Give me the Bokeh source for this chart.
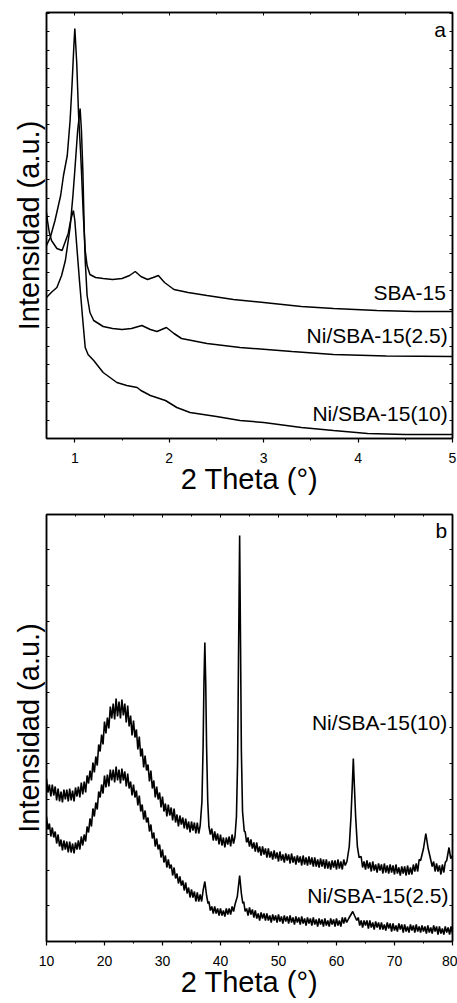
from bokeh.plotting import figure
from bokeh.layouts import column
from bokeh.models import (LinearAxis, Label, FixedTicker, SingleIntervalTicker, Range1d,
                          CustomLabelingPolicy)
from bokeh.embed import file_html
from bokeh.resources import INLINE

FONT = "Liberation Sans"

# ---------------- Panel a : low-angle XRD ----------------
SBA15_X = [0.70, 0.74, 0.79, 0.85, 0.88, 0.92, 0.95, 0.97, 0.99, 1.00, 1.02, 1.04, 1.06, 1.07,
           1.09, 1.11, 1.13, 1.16, 1.22, 1.30, 1.40, 1.50, 1.58, 1.64, 1.70, 1.77, 1.83, 1.885,
           1.95, 2.05, 2.2, 2.4, 2.68, 3.0, 3.4, 3.74, 4.2, 4.6, 5.0]
SBA15_Y = [193, 201, 218, 243, 263, 283, 318, 353, 393, 410, 376, 323, 288, 268,
           223, 188, 173, 164, 161, 160, 159, 160, 163, 167, 162, 159, 161, 163,
           156, 149, 146, 143, 139, 136, 132, 130, 128, 127, 127]

NI25A_X = [0.70, 0.75, 0.81, 0.86, 0.90, 0.95, 0.98, 1.00, 1.03, 1.056, 1.07, 1.085, 1.10, 1.11,
           1.13, 1.16, 1.2, 1.3, 1.4, 1.5, 1.6, 1.71, 1.8, 1.87, 1.97, 2.05, 2.13, 2.4, 2.75,
           3.3, 3.74, 4.3, 5.0]
NI25A_Y = [141, 146, 151, 163, 178, 211, 243, 268, 308, 330, 308, 268, 208, 178,
           143, 126, 118, 112, 110, 109, 110, 113, 109, 107, 111, 105, 100, 95, 91,
           87, 84, 82.5, 82]

NI10A_X = [0.70, 0.71, 0.73, 0.753, 0.81, 0.865, 0.93, 0.96, 0.985, 1.00, 1.02, 1.05, 1.08, 1.11,
           1.14, 1.18, 1.2, 1.3, 1.445, 1.55, 1.66, 1.7, 1.80, 1.96, 2.08, 2.22, 2.5, 2.75,
           3.0, 3.4, 3.74, 4.1, 4.5, 5.0]
NI10A_Y = [226, 218, 206, 198, 190, 188, 205, 220, 228, 218, 193, 157, 123, 91,
           84, 80, 78, 66, 56, 53, 51, 48, 43, 38, 31, 26, 22, 18,
           16, 11, 8, 5, 4, 4]

A_LABELS = ["SBA-15", "Ni/SBA-15(2.5)", "Ni/SBA-15(10)"]
A_YTICKS = [18.5 * k for k in range(0, 24)]

# ---------------- Panel b : wide-angle XRD (noisy traces, read point by point) ----------------
NI10B = [
    (10, 163), (10.25, 149), (10.5, 157), (10.75, 145), (11, 157), (11.25, 146), (11.5, 155), (11.75, 141),
    (12, 153), (12.25, 140), (12.5, 150), (12.75, 139), (13, 152), (13.25, 142), (13.5, 152), (13.75, 140),
    (14, 153), (14.25, 141), (14.5, 151), (14.75, 140), (15, 154), (15.25, 145), (15.5, 155), (15.75, 144),
    (16, 159), (16.25, 147), (16.5, 160), (16.75, 149), (17, 166), (17.25, 158), (17.5, 171), (17.75, 161),
    (18, 179), (18.25, 169), (18.5, 185), (18.75, 176), (19, 197), (19.25, 190), (19.5, 207), (19.75, 197),
    (20, 220), (20.25, 208), (20.5, 224), (20.75, 213), (21, 235), (21.25, 223), (21.5, 238), (21.75, 222),
    (22, 243), (22.25, 225), (22.5, 240), (22.75, 223), (23, 242), (23.25, 226), (23.5, 238), (23.75, 219),
    (24, 236), (24.25, 215), (24.5, 226), (24.75, 206), (25, 221), (25.25, 204), (25.5, 212), (25.75, 192),
    (26, 205), (26.25, 185), (26.5, 193), (26.75, 174), (27, 186), (27.25, 171), (27.5, 177), (27.75, 160),
    (28, 171), (28.25, 153), (28.5, 161), (28.75, 144), (29, 155), (29.25, 142), (29.5, 149), (29.75, 134),
    (30, 145), (30.25, 130), (30.5, 138), (30.75, 125), (31, 137), (31.25, 126), (31.5, 134), (31.75, 121),
    (32, 133), (32.25, 119), (32.5, 127), (32.75, 115), (33, 126), (33.25, 117), (33.5, 124), (33.75, 113),
    (34, 123), (34.25, 112), (34.5, 120), (34.75, 109), (35, 120), (35.25, 111), (35.5, 119), (35.75, 108),
    (36, 119), (36.25, 108), (36.5, 116),
    (36.8, 140), (37.0, 195), (37.15, 260), (37.3, 299), (37.45, 260), (37.6, 195), (37.8, 140), (38.0, 115),
    (38.25, 107), (38.5, 113), (38.75, 101), (39, 110), (39.25, 101), (39.5, 108), (39.75, 97), (40, 107),
    (40.25, 96), (40.5, 104), (40.75, 94), (41, 104), (41.25, 97), (41.5, 105), (41.75, 95), (42, 107),
    (42.25, 98), (42.5, 105), (42.75, 125), (42.95, 180), (43.1, 280), (43.3, 406), (43.45, 300),
    (43.6, 190), (43.8, 130), (44.1, 110),
    (44.25, 110), (44.5, 99), (44.75, 104), (45, 95), (45.25, 102), (45.5, 93), (45.75, 99), (46, 90),
    (46.25, 99), (46.5, 89), (46.75, 95), (47, 86), (47.25, 95), (47.5, 87), (47.75, 93), (48, 84),
    (48.25, 93), (48.5, 84), (48.75, 90), (49, 82), (49.25, 91), (49.5, 83), (49.75, 89), (50, 80),
    (50.25, 90), (50.5, 81), (50.75, 87), (51, 79), (51.25, 88), (51.5, 81), (51.75, 87), (52, 78),
    (52.25, 88), (52.5, 79), (52.75, 85), (53, 77), (53.25, 86), (53.5, 79), (53.75, 85), (54, 76),
    (54.25, 86), (54.5, 77), (54.75, 84), (55, 76), (55.25, 85), (55.5, 77), (55.75, 84), (56, 75),
    (56.25, 84), (56.5, 75), (56.75, 82), (57, 74), (57.25, 83), (57.5, 75), (57.75, 82), (58, 73),
    (58.25, 82), (58.5, 73), (58.75, 80), (59, 72), (59.25, 81), (59.5, 74), (59.75, 81), (60, 72),
    (60.25, 82), (60.5, 73), (60.75, 80), (61, 72), (61.25, 82), (61.5, 76),
    (61.8, 80), (62.2, 95), (62.5, 125), (62.75, 160), (62.9, 183), (63.05, 160), (63.3, 125),
    (63.6, 95), (63.9, 84),
    (64.25, 85), (64.5, 74), (64.75, 80), (65, 72), (65.25, 81), (65.5, 73), (65.75, 79), (66, 70),
    (66.25, 80), (66.5, 71), (66.75, 77), (67, 69), (67.25, 78), (67.5, 71), (67.75, 77), (68, 68),
    (68.25, 78), (68.5, 69), (68.75, 76), (69, 68), (69.25, 77), (69.5, 69), (69.75, 76), (70, 67),
    (70.25, 77), (70.5, 68), (70.75, 74), (71, 66), (71.25, 75), (71.5, 68), (71.75, 75), (72, 66),
    (72.25, 76), (72.5, 67), (72.75, 74), (73, 67), (73.25, 77), (73.5, 70), (73.75, 78), (74, 70),
    (74.25, 82), (74.5, 81), (75.0, 93), (75.4, 108), (75.8, 93), (76.2, 83),
    (76.5, 75), (76.75, 80), (77, 70), (77.25, 78), (77.5, 70), (77.75, 76), (78, 67), (78.25, 77),
    (78.5, 69), (78.75, 79), (79.0, 81), (79.4, 94), (79.7, 83), (80.0, 86),
]

NI25B = [
    (10, 125), (10.25, 112), (10.5, 118), (10.75, 105), (11, 114), (11.25, 104), (11.5, 110), (11.75, 98),
    (12, 107), (12.25, 95), (12.5, 102), (12.75, 91), (13, 101), (13.25, 92), (13.5, 100), (13.75, 89),
    (14, 100), (14.25, 89), (14.5, 98), (14.75, 88), (15, 99), (15.25, 92), (15.5, 101), (15.75, 92),
    (16, 105), (16.25, 96), (16.5, 107), (16.75, 100), (17, 115), (17.25, 109), (17.5, 123), (17.75, 115),
    (18, 133), (18.25, 125), (18.5, 139), (18.75, 132), (19, 150), (19.25, 144), (19.5, 157), (19.75, 148),
    (20, 166), (20.25, 154), (20.5, 167), (20.75, 155), (21, 172), (21.25, 161), (21.5, 172), (21.75, 159),
    (22, 175), (22.25, 161), (22.5, 172), (22.75, 158), (23, 173), (23.25, 161), (23.5, 170), (23.75, 155),
    (24, 168), (24.25, 153), (24.5, 160), (24.75, 146), (25, 157), (25.25, 144), (25.5, 151), (25.75, 136),
    (26, 146), (26.25, 130), (26.5, 137), (26.75, 122), (27, 131), (27.25, 119), (27.5, 124), (27.75, 110),
    (28, 117), (28.25, 103), (28.5, 109), (28.75, 95), (29, 103), (29.25, 92), (29.5, 97), (29.75, 84),
    (30, 92), (30.25, 79), (30.5, 86), (30.75, 74), (31, 82), (31.25, 73), (31.5, 77), (31.75, 66),
    (32, 74), (32.25, 63), (32.5, 68), (32.75, 58), (33, 65), (33.25, 56), (33.5, 61), (33.75, 51),
    (34, 59), (34.25, 48), (34.5, 54), (34.75, 44), (35, 52), (35.25, 44), (35.5, 50), (35.75, 40),
    (36, 49), (36.25, 40), (36.5, 47), (36.75, 40),
    (37.0, 51), (37.3, 60), (37.6, 46), (37.85, 38),
    (38, 40), (38.25, 31), (38.5, 35), (38.75, 28), (39, 35), (39.25, 28), (39.5, 33), (39.75, 26),
    (40, 33), (40.25, 26), (40.5, 31), (40.75, 25), (41, 33), (41.25, 27), (41.5, 33), (41.75, 27),
    (42, 35), (42.25, 30), (42.5, 37),
    (42.9, 45), (43.3, 66), (43.6, 48), (43.85, 38),
    (44, 40), (44.25, 30), (44.5, 33), (44.75, 26), (45, 34), (45.25, 27), (45.5, 32), (45.75, 24),
    (46, 31), (46.25, 23), (46.5, 28), (46.75, 21), (47, 29), (47.25, 23), (47.5, 28), (47.75, 21),
    (48, 28), (48.25, 21), (48.5, 26), (48.75, 19), (49, 27), (49.25, 21), (49.5, 26), (49.75, 19),
    (50, 27), (50.25, 20), (50.5, 25), (50.75, 18), (51, 26), (51.25, 20), (51.5, 25), (51.75, 18),
    (52, 26), (52.25, 19), (52.5, 24), (52.75, 17), (53, 25), (53.25, 19), (53.5, 24), (53.75, 17),
    (54, 25), (54.25, 18), (54.5, 23), (54.75, 16), (55, 24), (55.25, 18), (55.5, 23), (55.75, 16),
    (56, 24), (56.25, 17), (56.5, 22), (56.75, 15), (57, 23), (57.25, 17), (57.5, 22), (57.75, 15),
    (58, 23), (58.25, 16), (58.5, 21), (58.75, 15), (59, 23), (59.25, 17), (59.5, 22), (59.75, 15),
    (60, 23), (60.25, 16), (60.5, 21), (60.75, 15), (61, 24), (61.25, 18), (61.5, 24), (61.75, 19),
    (62.1, 23), (62.5, 27), (62.8, 30), (63.1, 26), (63.5, 21),
    (63.75, 24), (64, 16), (64.25, 21), (64.5, 14), (64.75, 21), (65, 16), (65.25, 21), (65.5, 13),
    (65.75, 21), (66, 14), (66.25, 19), (66.5, 12), (66.75, 20), (67, 14), (67.25, 19), (67.5, 12),
    (67.75, 19), (68, 12), (68.25, 17), (68.5, 11), (68.75, 19), (69, 13), (69.25, 18), (69.5, 10),
    (69.75, 18), (70, 11), (70.25, 16), (70.5, 10), (70.75, 18), (71, 12), (71.25, 17), (71.5, 9),
    (71.75, 17), (72, 10), (72.25, 15), (72.5, 9), (72.75, 17), (73, 11), (73.25, 16), (73.5, 9),
    (73.75, 17), (74, 10), (74.25, 15), (74.5, 9), (74.75, 16), (75, 10), (75.25, 15), (75.5, 8),
    (75.75, 16), (76, 9), (76.25, 14), (76.5, 8), (76.75, 16), (77, 10), (77.25, 15), (77.5, 7),
    (77.75, 15), (78, 8), (78.25, 13), (78.5, 7), (78.75, 15), (79, 9), (79.25, 14), (79.5, 7),
    (79.75, 15), (80, 8),
]

B_LABELS = ["Ni/SBA-15(10)", "Ni/SBA-15(2.5)"]
B_YTICKS = [35.6 * k for k in range(0, 13)]


def hide_labels(ax):
    ax.major_label_policy = CustomLabelingPolicy(code="return []")
    ax.major_label_text_font_size = "0px"
    ax.major_label_standoff = 0


def make_panel(xr, yr, height, top, bottom, x_interval, yticks):
    p = figure(width=457, height=height, x_range=Range1d(*xr), y_range=Range1d(*yr),
               min_border_left=46, min_border_right=5, min_border_top=top,
               min_border_bottom=bottom, output_backend="svg", toolbar_location=None,
               x_axis_label="2 Theta (°)", y_axis_label="Intensidad (a.u.)")
    p.grid.visible = False
    p.outline_line_color = "black"
    p.outline_line_width = 1.5
    p.background_fill_color = "white"
    p.border_fill_color = "white"

    xa = p.below[0]
    xa.ticker = SingleIntervalTicker(interval=x_interval, num_minor_ticks=2)
    xa.axis_line_width = 1.5
    xa.major_tick_out = 4
    xa.major_tick_in = 0
    xa.minor_tick_out = 2
    xa.minor_tick_in = 0
    xa.major_tick_line_width = 1.2
    xa.major_label_standoff = 10
    xa.major_label_text_font = FONT
    xa.major_label_text_font_size = "14px"
    xa.major_label_text_color = "black"
    xa.axis_label_text_font = FONT
    xa.axis_label_text_font_size = "29px"
    xa.axis_label_text_font_style = "normal"
    xa.axis_label_text_color = "black"
    xa.axis_label_standoff = -3

    ya = p.left[0]
    ya.ticker = FixedTicker(ticks=yticks, minor_ticks=[])
    ya.axis_line_width = 1.5
    ya.major_tick_in = 3
    ya.major_tick_out = 0
    hide_labels(ya)
    ya.axis_label_text_font = FONT
    ya.axis_label_text_font_size = "29px"
    ya.axis_label_text_font_style = "normal"
    ya.axis_label_text_color = "black"
    ya.axis_label_standoff = 2

    top_ax = LinearAxis(ticker=SingleIntervalTicker(interval=x_interval, num_minor_ticks=2),
                        axis_line_width=1.5, major_tick_in=3, major_tick_out=0,
                        minor_tick_in=2, minor_tick_out=0)
    hide_labels(top_ax)
    p.add_layout(top_ax, "above")
    right_ax = LinearAxis(ticker=FixedTicker(ticks=yticks, minor_ticks=[]),
                          axis_line_width=1.5, major_tick_in=3, major_tick_out=0)
    hide_labels(right_ax)
    p.add_layout(right_ax, "right")
    return p


def add_label(p, x, y, text, size="21px"):
    p.add_layout(Label(x=x, y=y, text=text, text_align="right", text_baseline="middle",
                       text_font=FONT, text_font_size=size, text_color="black"))


# Panel a
pa = make_panel((0.7, 5.0), (0, 426), 500, 12, 62, 1, A_YTICKS)
pa.line(SBA15_X, SBA15_Y, line_color="black", line_width=1.5)
pa.line(NI25A_X, NI25A_Y, line_color="black", line_width=1.5)
pa.line(NI10A_X, NI10A_Y, line_color="black", line_width=1.5)
add_label(pa, 4.93, 146, A_LABELS[0])
add_label(pa, 4.95, 103, A_LABELS[1])
add_label(pa, 4.95, 25, A_LABELS[2])
add_label(pa, 4.93, 409, "a")

# Panel b
pb = make_panel((10, 80), (0, 427), 503, 14, 62, 10, B_YTICKS)
x10, y10 = zip(*NI10B)
x25, y25 = zip(*NI25B)
pb.line(list(x10), list(y10), line_color="black", line_width=1.6)
pb.line(list(x25), list(y25), line_color="black", line_width=1.6)
add_label(pb, 79.1, 219, B_LABELS[0])
add_label(pb, 79.3, 46, B_LABELS[1])
add_label(pb, 79.1, 411, "b")

layout = column(pa, pb, spacing=0)
open("out.html", "w").write(file_html(layout, INLINE))
